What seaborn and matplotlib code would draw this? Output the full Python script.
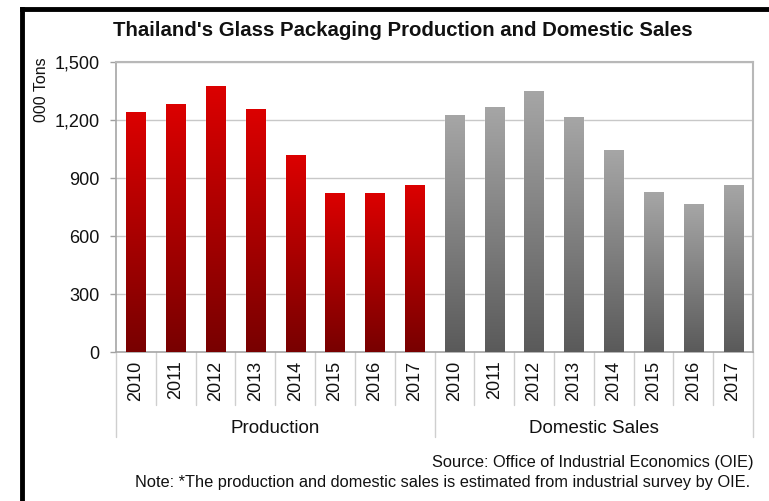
import numpy as np
import pandas as pd
import matplotlib
matplotlib.use("Agg")
import matplotlib.pyplot as plt
from matplotlib.colors import LinearSegmentedColormap
import seaborn as sns

years = ["2010", "2011", "2012", "2013", "2014", "2015", "2016", "2017"]
production = [1245, 1285, 1380, 1260, 1018, 824, 824, 866]
domestic_sales = [1225, 1269, 1353, 1217, 1044, 827, 765, 865]
groups = ["Production", "Domestic Sales"]

rows = []
for g, vals in zip(groups, [production, domestic_sales]):
    for y, v in zip(years, vals):
        rows.append({"key": f"{g} {y}", "year": y, "series": g, "value": v})
df = pd.DataFrame(rows)

sns.set_theme(style="white")
plt.rcParams["font.family"] = ["Liberation Sans", "DejaVu Sans"]

fig = plt.figure(figsize=(7.69, 5.01), dpi=100)
ax = fig.add_axes([116 / 769, 1 - 352.3 / 501, 637 / 769, 290 / 501])

sns.barplot(data=df, x="key", y="value", hue="series", dodge=False, width=0.48,
            palette={"Production": "#b00000", "Domestic Sales": "#808080"},
            legend=False, ax=ax, zorder=2)

ax.set_xlim(-0.5, 15.5)
ax.set_ylim(0, 1500)
ax.set_yticks([0, 300, 600, 900, 1200, 1500])
ax.set_yticklabels(["0", "300", "600", "900", "1,200", "1,500"], fontsize=13, color="#111111")
ax.yaxis.grid(True, color="#c8c8c8", linewidth=1.0, zorder=0)
ax.set_axisbelow(True)
ax.tick_params(axis="y", length=4, width=1, color="#a0a0a0", pad=8, left=True)
ax.tick_params(axis="x", length=0, pad=6)
ax.set_xticks(range(16))
ax.set_xticklabels(years * 2, rotation=90, fontsize=13, color="#111111")
ax.set_xlabel("")
ax.set_ylabel("")
for s in ["left", "bottom"]:
    ax.spines[s].set_color("#a6a6a6")
    ax.spines[s].set_linewidth(1.2)
for s in ["top", "right"]:
    ax.spines[s].set_color("#b8b8b8")
    ax.spines[s].set_linewidth(1.5)

# gradients on bars
cmaps = {
    "Production": LinearSegmentedColormap.from_list("r", ["#780000", "#dc0000"]),
    "Domestic Sales": LinearSegmentedColormap.from_list("g", ["#5a5a5a", "#a6a6a6"]),
}
grad = np.linspace(0, 1, 256).reshape(-1, 1)
patches = list(ax.patches)
for i, p in enumerate(patches):
    x0, y0 = p.get_x(), p.get_y()
    w, h = p.get_width(), p.get_height()
    if h <= 0:
        continue
    cx = x0 + w / 2
    series = "Production" if cx < 7.5 else "Domestic Sales"
    im = ax.imshow(grad, extent=[x0, x0 + w, y0, y0 + h], origin="lower",
                   cmap=cmaps[series], aspect="auto", zorder=3)
    im.set_clip_path(p)
ax.set_xlim(-0.5, 15.5)
ax.set_ylim(0, 1500)

# category separators below the axis
trans = ax.get_xaxis_transform()
for k in range(17):
    xpos = k - 0.5
    ylow = -0.293 if k in (0, 8, 16) else -0.183
    ax.plot([xpos, xpos], [0, ylow], transform=trans, color="#cfcfcf",
            linewidth=1.0, clip_on=False)

for gi, g in enumerate(groups):
    ax.text(gi * 8 + 3.5, -0.262, g, transform=trans, ha="center", va="center",
            fontsize=13.5, color="#111111")

fig.text(403 / 769, 1 - 30 / 501, "Thailand's Glass Packaging Production and Domestic Sales",
         ha="center", va="center", fontsize=14.7, fontweight="bold", color="#111111")
fig.text(41 / 769, 1 - 90 / 501, "000 Tons", rotation=90, ha="center", va="center",
         fontsize=11.5, color="#111111")
fig.text(753 / 769, 1 - 463 / 501, "Source: Office of Industrial Economics (OIE)",
         ha="right", va="center", fontsize=11.8, color="#111111")
fig.text(750 / 769, 1 - 482 / 501,
         "Note: *The production and domestic sales is estimated from industrial survey by OIE.",
         ha="right", va="center", fontsize=11.8, color="#111111")

# black frame (left and top)
fig.add_artist(plt.Line2D([22 / 769, 22 / 769], [0, 1 - 9 / 501], transform=fig.transFigure,
                          color="black", linewidth=3.5, solid_capstyle="projecting"))
fig.add_artist(plt.Line2D([22 / 769, 1], [1 - 9 / 501, 1 - 9 / 501], transform=fig.transFigure,
                          color="black", linewidth=3.5, solid_capstyle="projecting"))

fig.savefig("out.png", dpi=100, facecolor="white")
